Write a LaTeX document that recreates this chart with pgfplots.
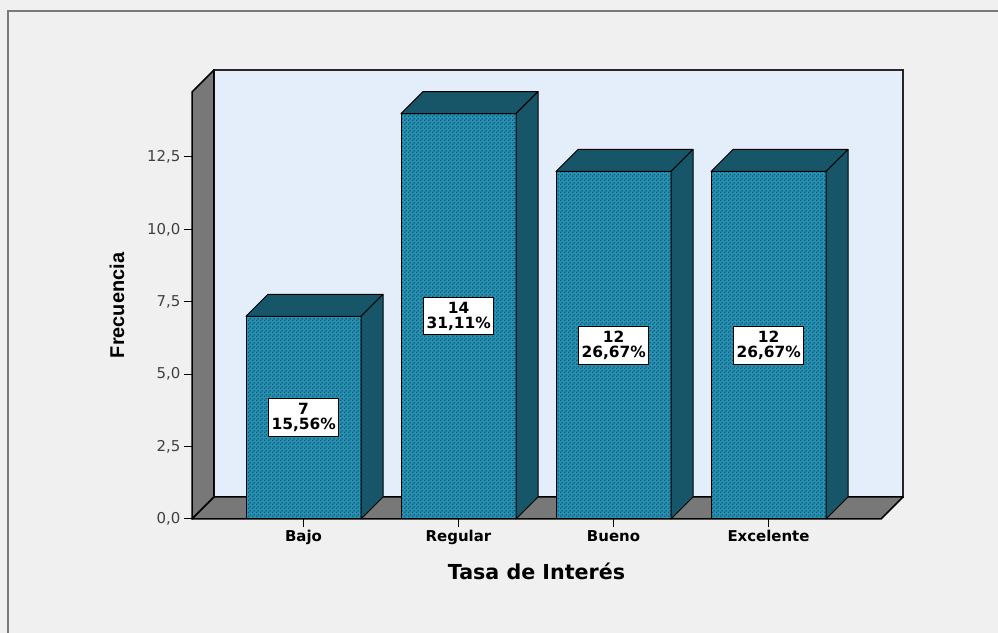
\documentclass[border=0pt]{standalone}
\usepackage{fontspec}
\setmainfont{DejaVu Sans}
\newfontfamily\arialfont{Liberation Sans}
\usepackage{pgfplots}
\pgfplotsset{compat=1.18}
\usepackage{pgfplotstable}
\usetikzlibrary{patterns.meta}
\definecolor{bgc}{HTML}{F0F0F0}
\definecolor{wallblue}{HTML}{E3EEFA}
\definecolor{wallgray}{HTML}{787878}
\definecolor{barfront}{HTML}{2592B6}
\definecolor{bardots}{HTML}{16566C}
\definecolor{barside}{HTML}{175568}
\definecolor{framegray}{HTML}{7A7A7A}

\tikzdeclarepattern{
  name=spssdots,
  type=uncolored,
  bounding box={(0,0) and (4bp,4bp)},
  tile size={(4bp,4bp)},
  code={
    \fill (0,0) rectangle (1.7bp,1.7bp);
    \fill (2bp,2bp) rectangle (3.7bp,3.7bp);
  }
}

\pgfplotstableread{
x v pct
0 7 15,56
1 14 31,11
2 12 26,67
3 12 26,67
}\datatable

\def\bhw{0.371}\def\bdx{0.1419}\def\bdy{0.7597}
\newcommand\sidefaces[2]{%
  \pgfmathsetmacro\bxl{#1-\bhw}%
  \pgfmathsetmacro\bxr{#1+\bhw}%
  \pgfmathsetmacro\bxlb{#1-\bhw+\bdx}%
  \pgfmathsetmacro\bxrb{#1+\bhw+\bdx}%
  \pgfmathsetmacro\bvt{#2+\bdy}%
  \edef\doplot{%
    \noexpand\addplot[fill=barside, draw=black, line width=1bp, line join=round] coordinates {(\bxl,#2) (\bxlb,\bvt) (\bxrb,\bvt) (\bxr,#2)} -- cycle;%
    \noexpand\addplot[fill=barside, draw=black, line width=1bp, line join=round] coordinates {(\bxr,0) (\bxrb,\bdy) (\bxrb,\bvt) (\bxr,#2)} -- cycle;%
  }\doplot
}

\begin{document}
\begin{tikzpicture}
\useasboundingbox (0,0) rectangle (998bp,633bp);
\fill[bgc] (0,0) rectangle (998bp,633bp);
\draw[framegray, line width=2bp] (8bp,0) -- (8bp,622bp) -- (998bp,622bp);
\begin{axis}[
  at={(192bp,114bp)}, anchor=south west,
  scale only axis, clip=false,
  x=155bp, y=28.96bp,
  xmin=-0.7194, xmax=3.7258, ymin=0, ymax=14.745,
  axis lines*=left,
  axis line style={line width=1bp, black},
  tick style={line width=1bp, black},
  tick align=outside, major tick length=8bp,
  xtick={0,1,2,3},
  xticklabels={Bajo,Regular,Bueno,Excelente},
  ytick={0,2.5,5,7.5,10,12.5},
  yticklabel style={font=\fontsize{15}{18}\selectfont, text=black!75,
    /pgf/number format/.cd, fixed, fixed zerofill, precision=1, use comma, assume math mode=true},
  xticklabel style={font=\bfseries\fontsize{15}{18}\selectfont},
  xlabel={Tasa de Interés},
  xlabel style={font=\bfseries\fontsize{20.7}{24}\selectfont, yshift=-11bp},
  ylabel={Frecuencia},
  ylabel style={font=\arialfont\bfseries\fontsize{20}{22}\selectfont, yshift=16bp},
]
\draw[fill=wallblue, draw=black!85, line width=1.5bp] (axis cs:-0.5775,0.7597) rectangle (axis cs:3.8677,15.5047);
\draw[fill=wallgray, draw=black, line width=1.5bp, line join=round] (axis cs:-0.7194,0) -- (axis cs:-0.5775,0.7597) -- (axis cs:-0.5775,15.5047) -- (axis cs:-0.7194,14.745) -- cycle;
\draw[fill=wallgray, draw=black, line width=1.5bp, line join=round] (axis cs:-0.7194,0) -- (axis cs:3.7258,0) -- (axis cs:3.8677,0.7597) -- (axis cs:-0.5775,0.7597) -- cycle;

\addplot[ybar, bar width=115bp, fill=barfront, draw=black, line width=1bp,
  postaction={pattern={spssdots}, pattern color=bardots}] table[x=x, y=v] {\datatable};

\pgfplotsforeachungrouped \i in {0,1,2,3}{%
  \pgfplotstablegetelem{\i}{v}\of\datatable
  \let\bval\pgfplotsretval
  \sidefaces{\i}{\bval}%
}

\addplot[draw=none, point meta=explicit symbolic,
  visualization depends on={\thisrow{v}\as\cnt},
  nodes near coords={\pgfmathprintnumber[assume math mode=true]{\cnt}\\\pgfplotspointmeta\%},
  every node near coord/.append style={anchor=center, align=center, fill=white, draw=black,
    line width=1bp, inner xsep=3bp, inner ysep=4.5bp, font=\bfseries\fontsize{15.5}{15}\selectfont, text width=64bp}]
  table[x=x, y expr=\thisrow{v}/2, meta=pct] {\datatable};
\end{axis}
\end{tikzpicture}
\end{document}
